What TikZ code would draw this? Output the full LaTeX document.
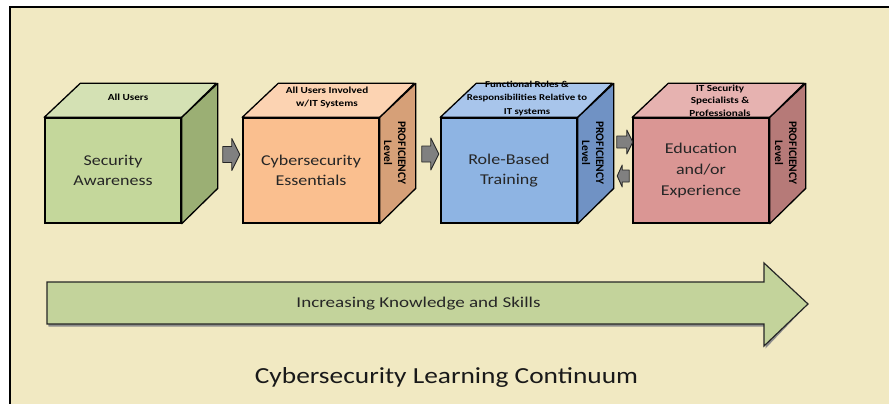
\documentclass[tikz,border=0pt]{standalone}
\usepackage{fontspec}
\setmainfont{Carlito}
\usetikzlibrary{calc}
\definecolor{bg}{RGB}{241,233,194}
\definecolor{gfront}{RGB}{196,215,155}
\definecolor{gtop}{RGB}{212,225,180}
\definecolor{gside}{RGB}{155,175,116}
\definecolor{ofront}{RGB}{250,191,143}
\definecolor{otop}{RGB}{252,211,178}
\definecolor{oside}{RGB}{214,160,120}
\definecolor{bfront}{RGB}{142,180,227}
\definecolor{btop}{RGB}{168,197,235}
\definecolor{bside}{RGB}{112,146,196}
\definecolor{rfront}{RGB}{218,150,148}
\definecolor{rtop}{RGB}{230,178,176}
\definecolor{rside}{RGB}{182,122,120}
\definecolor{arrowgreen}{RGB}{195,211,155}
\tikzset{
  front/.style={draw=black, line width=1.3pt, minimum width=136pt, minimum height=105pt,
    inner sep=0pt, align=center, font=\fontsize{15}{20}\selectfont, text=black!85, xscale=1.2},
  face/.style={draw=black, line width=1.3pt, line join=round},
  toplbl/.style={font=\fontsize{9.3}{13}\selectfont\bfseries, align=center, inner sep=0pt, xscale=1.2},
  sidelbl/.style={font=\fontsize{11.5}{14}\selectfont\bfseries, align=center, inner sep=0pt, rotate=-90},
  garrow/.style={draw=black!85, line width=0.9pt, fill=black!50, line join=round},
}
\newcommand\mycube[3]{%
  \draw[face, fill=#2] (#1.north west) -- ++(36,-34) -- ++(136,0) -- (#1.north east) -- cycle;
  \draw[face, fill=#3] (#1.north east) -- ++(36,-34) -- ++(0,105) -- (#1.south east) -- cycle;
}
% right-pointing small arrow, origin at left middle of shaft
\newcommand\rarr[1]{%
  \draw[garrow, shift={(#1)}] (0,-8) -- (9,-8) -- (9,-16) -- (17,0) -- (9,16) -- (9,8) -- (0,8) -- cycle;}
\newcommand\larr[1]{%
  \draw[garrow, shift={(#1)}] (0,-6) -- (-7,-6) -- (-7,-11) -- (-12,0) -- (-7,11) -- (-7,6) -- (0,6) -- cycle;}
\newcommand\rarrs[1]{%
  \draw[garrow, shift={(#1)}] (0,-6) -- (10,-6) -- (10,-12) -- (16,0) -- (10,12) -- (10,6) -- (0,6) -- cycle;}
\begin{document}
\begin{tikzpicture}[x=1pt,y=-1pt]
\useasboundingbox (0,0) rectangle (889,404);
\fill[white] (0,0) rectangle (889,404);
\fill[bg] (10,7) rectangle (889,404);
\draw[line width=2.5pt] (10,405) -- (10,7) -- (890,7);

% cubes (front faces = nodes; xscale only stretches the text box, so width is compensated)
\tikzset{front/.append style={minimum width=113.33pt}}
\node[front, fill=gfront] (c1) at (113,170.5) {Security\\Awareness};
\mycube{c1}{gtop}{gside}
\node[front, fill=ofront] (c2) at (311,170.5) {Cybersecurity\\Essentials};
\mycube{c2}{otop}{oside}
\node[front, fill=bfront] (c3) at (509,170.5) {Role-Based\\Training};
\mycube{c3}{btop}{bside}
\node[front, fill=rfront, font=\fontsize{15}{21.5}\selectfont] (c4) at (701,170.5) {Education\\and/or\\Experience};
\mycube{c4}{rtop}{rside}

% top labels
\node[toplbl] (t1) at (128,97) {All Users};
\node[toplbl] (t2) at (327,97.5) {All Users Involved\\w/IT Systems};
\node[toplbl, font=\fontsize{9}{13.5}\selectfont\bfseries] (t3) at (527,98.5) {Functional Roles \&\\Responsibilities Relative to\\IT systems};
\node[toplbl, font=\fontsize{9.3}{12.5}\selectfont\bfseries] (t4) at (720,100.5) {IT Security\\Specialists \&\\Professionals};

% side labels
\node[sidelbl] (s2) at ($(c2.east)+(15,-17.5)$) {PROFICIENCY\\Level};
\node[sidelbl] (s3) at ($(c3.east)+(15,-17.5)$) {PROFICIENCY\\Level};
\node[sidelbl] (s4) at ($(c4.east)+(16,-17.5)$) {PROFICIENCY\\Level};

% small arrows between cubes
\coordinate (a12) at ($(c1.east)+(41,-16)$);
\coordinate (a23) at ($(c2.east)+(42,-16.5)$);
\coordinate (a34) at ($(c3.east)+(39,-28.5)$);
\coordinate (a43) at ($(c4.west)+(-3,5.5)$);
\rarr{a12}
\rarr{a23}
\rarrs{a34}
\larr{a43}

% big arrow
\coordinate (bs) at (47,303);
\coordinate (bt) at (808,304);
\fill[black!45, shift={(1.5,2.5)}] (bs) ++(0,-21) -- (764,282) -- (764,263) -- (bt) -- (764,346) -- (764,324) -- (47,324) -- cycle;
\draw[draw=black!85, line width=1.2pt, fill=arrowgreen, line join=miter]
  (bs) ++(0,-21) -- (764,282) -- (764,263) -- (bt) -- (764,346) -- (764,324) -- (47,324) -- cycle;
\node[font=\fontsize{15}{17}\selectfont, text=black!85, xscale=1.27] (bl) at (418.5,303.5) {Increasing Knowledge and Skills};

% title
\node[font=\fontsize{23}{26}\selectfont, text=black!90, xscale=1.19] (title) at (446.5,377) {Cybersecurity Learning Continuum};
\end{tikzpicture}
\end{document}
